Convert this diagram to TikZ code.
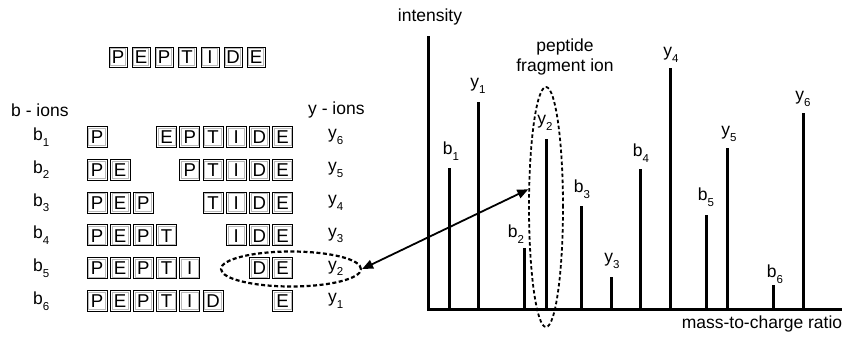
\documentclass[tikz,border=0pt]{standalone}
\usepackage{fontspec}
\setmainfont{Liberation Sans}
\usetikzlibrary{shapes.geometric,arrows.meta}
\newcommand\lowsub[1]{\raisebox{-0.32em}{\fontsize{11.5}{12}\selectfont #1}}
\tikzset{
  lbl/.style={font=\fontsize{17.5}{20}\selectfont, inner sep=0pt},
  pbox/.style={draw, line width=0.9pt, minimum width=20pt, minimum height=21pt,
    inner sep=0pt, text height=13.3pt, text depth=0pt,
    font=\fontsize{18.6}{22}\selectfont,
    path picture={\draw[gray!55, line width=0.7pt]
      ([shift={(1.7pt,-1.7pt)}]path picture bounding box.north west) rectangle
      ([shift={(-1.7pt,1.7pt)}]path picture bounding box.south east);}},
  tbox/.style={pbox, minimum width=18pt, minimum height=20pt},
  peak/.style={line width=3pt},
  axisline/.style={line width=3pt},
  ring/.style={ellipse, draw, dashed, inner sep=0pt},
  linkarrow/.style={line width=1.8pt, >={Triangle[length=11pt,width=9pt]}, <->}
}
\begin{document}
\begin{tikzpicture}[x=1pt,y=-1pt]
\useasboundingbox (0,0) rectangle (844,338);

% top peptide
\foreach \c/\l in {0/P,1/E,2/P,3/T,4/I,5/D,6/E}
  \node[tbox] (top\c) at (118+23*\c,57) {\l};

% headers
\node[lbl, anchor=west] (bions) at (11,110) {b - ions};
\node[lbl, anchor=west] (yions) at (308,110) {y - ions};

% fragment rows
\foreach \r in {1,...,6}{
  \pgfmathsetmacro{\yy}{137+32.8*(\r-1)}
  \pgfmathtruncatemacro{\yi}{7-\r}
  \node[lbl, anchor=west] (bl\r) at (33,\yy) {b\lowsub{\r}};
  \node[lbl, anchor=west] (yl\r) at (328,\yy) {y\lowsub{\yi}};
  \foreach \c/\l in {0/P,1/E,2/P,3/T,4/I,5/D}{
    \ifnum\c<\r
      \node[pbox] (b\r-\c) at (97+23.2*\c,\yy) {\l};
    \fi
  }
  \foreach \c/\l in {3/E,4/P,5/T,6/I,7/D,8/E}{
    \ifnum\c>\numexpr\r+1\relax
      \node[pbox] (y\r-\c) at (97+23.2*\c,\yy) {\l};
    \fi
  }
}

% spectrum axes
\coordinate (ytop) at (428,36);
\coordinate (orig) at (428,309);
\coordinate (xend) at (842,309);
\draw[axisline] (ytop) -- (orig) -- (xend);
\node[lbl] (intens) at (430,17) {intensity};
\node[lbl] (mz) at (762,324) {mass-to-charge ratio};

% peaks
\foreach \x/\t in {449/168,478/102,524/248,546/139,581/206,611/277,640/169,670/68,706/215,727/148,773/285,803/113}
  \draw[peak] (\x,309) -- (\x,\t);

% peak labels
\node[lbl] (pb1) at (451,151) {b\lowsub{1}};
\node[lbl] (py1) at (478,86) {y\lowsub{1}};
\node[lbl] (pb2) at (516,234) {b\lowsub{2}};
\node[lbl] (py2) at (545,123) {y\lowsub{2}};
\node[lbl] (pb3) at (582,189) {b\lowsub{3}};
\node[lbl] (py3) at (612,261) {y\lowsub{3}};
\node[lbl] (pb4) at (641,153) {b\lowsub{4}};
\node[lbl] (py4) at (671,55) {y\lowsub{4}};
\node[lbl] (pb5) at (706,197) {b\lowsub{5}};
\node[lbl] (py5) at (729,134) {y\lowsub{5}};
\node[lbl] (pb6) at (775,274) {b\lowsub{6}};
\node[lbl] (py6) at (803,99) {y\lowsub{6}};

\node[lbl, align=center] (pfi) at (565,57) {peptide\\fragment ion};

% dashed rings
\node[ring, line width=2.2pt, dash pattern=on 4pt off 2.5pt,
      minimum width=140pt, minimum height=35pt] (e1) at (291,269) {};
\node[ring, line width=1.8pt, dash pattern=on 3.5pt off 2.5pt,
      minimum width=34pt, minimum height=240pt] (e2) at (546,207) {};

% arrow
\draw[linkarrow] (e1.east) -- (e2.135);
\end{tikzpicture}
\end{document}
